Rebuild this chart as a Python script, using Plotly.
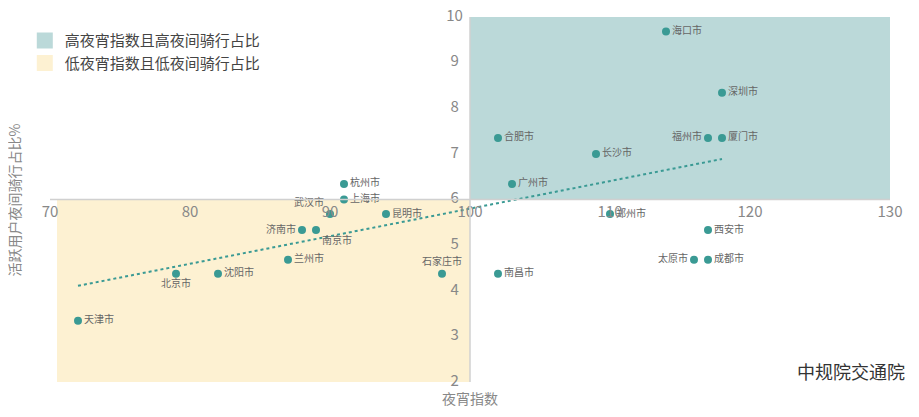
import numpy as np
import plotly.graph_objects as go

cities = ['天津市', '北京市', '沈阳市', '兰州市', '济南市', '南京市', '武汉市', '杭州市', '上海市', '昆明市',
          '石家庄市', '合肥市', '广州市', '长沙市', '郑州市', '海口市', '福州市', '厦门市', '深圳市', '西安市',
          '太原市', '成都市', '南昌市']
night_index = [72, 79, 82, 87, 88, 89, 90, 91, 91, 94,
               98, 102, 103, 109, 110, 114, 117, 118, 118, 117,
               116, 117, 102]
ride_share = [3.34, 4.37, 4.37, 4.68, 5.33, 5.33, 5.68, 6.34, 6.0, 5.68,
              4.37, 7.35, 6.34, 7.0, 5.68, 9.68, 7.35, 7.35, 8.34, 5.33,
              4.68, 4.68, 4.37]
label_pos = ['middle right', 'bottom center', 'middle right', 'middle right', 'middle left', 'bottom right',
             'top left', 'middle right', 'middle right', 'middle right',
             'top center', 'middle right', 'middle right', 'middle right', 'middle right', 'middle right',
             'middle left', 'middle right', 'middle right', 'middle right',
             'middle left', 'middle right', 'middle right']
x_ticks = [70, 80, 90, 100, 110, 120, 130]
y_ticks = [2, 3, 4, 5, 6, 7, 8, 9, 10]

teal = '#3a9a94'
fig = go.Figure()

# quadrant boxes
fig.add_shape(type='rect', x0=70.5, x1=100, y0=2, y1=6, fillcolor='#fdf1d2', line_width=0, layer='below')
fig.add_shape(type='rect', x0=100, x1=130, y0=6, y1=10, fillcolor='#bbd9d9', line_width=0, layer='below')
fig.add_shape(type='line', x0=70, x1=130, y0=6, y1=6, line=dict(color='#d0d0d0', width=1.5))
fig.add_shape(type='line', x0=100, x1=100, y0=2, y1=10, line=dict(color='#d0d0d0', width=1.5))

# legend entries
fig.add_trace(go.Scatter(x=[None], y=[None], mode='markers', name='高夜宵指数且高夜间骑行占比',
                         marker=dict(symbol='square', size=24, color='#bbd9d9')))
fig.add_trace(go.Scatter(x=[None], y=[None], mode='markers', name='低夜宵指数且低夜间骑行占比',
                         marker=dict(symbol='square', size=24, color='#fdf1d2')))

# trend line
k, b = np.polyfit(night_index, ride_share, 1)
xs = [min(night_index), max(night_index)]
fig.add_trace(go.Scatter(x=xs, y=[k * v + b for v in xs], mode='lines', showlegend=False,
                         line=dict(color=teal, width=2, dash='dot'), hoverinfo='skip'))

fig.add_trace(go.Scatter(x=night_index, y=ride_share, mode='markers+text', text=cities,
                         textposition=label_pos, showlegend=False, cliponaxis=False,
                         textfont=dict(size=10, color='#666666'),
                         marker=dict(size=8, color=teal)))

# tick labels at the crossing axes
fig.add_trace(go.Scatter(x=x_ticks, y=[5.7] * len(x_ticks), mode='text', text=[str(v) for v in x_ticks],
                         cliponaxis=False, textfont=dict(size=15, color='#888888'),
                         showlegend=False, hoverinfo='skip'))
fig.add_trace(go.Scatter(x=[98.9] * len(y_ticks), y=y_ticks, mode='text', text=[str(v) for v in y_ticks],
                         cliponaxis=False, textfont=dict(size=15, color='#888888'),
                         showlegend=False, hoverinfo='skip'))

fig.add_annotation(text='夜宵指数', x=100, y=-0.01, xref='x', yref='paper', showarrow=False,
                   yanchor='top', font=dict(size=14, color='#888888'))
fig.add_annotation(text='活跃用户夜间骑行占比%', x=-0.043, y=0.5, xref='paper', yref='paper', showarrow=False,
                   xanchor='center', yanchor='middle',
                   textangle=-90, font=dict(size=14, color='#888888'))
fig.add_annotation(text='中规院交通院', x=1.02, y=-0.01, xref='paper', yref='paper', showarrow=False,
                   xanchor='right', yanchor='bottom', font=dict(size=18, color='#333333'))

fig.update_layout(
    width=919, height=417, plot_bgcolor='white', paper_bgcolor='white',
    margin=dict(l=42, r=37, t=9, b=43, autoexpand=False),
    font=dict(family='Noto Sans CJK SC'),
    xaxis=dict(range=[70, 130], visible=False),
    yaxis=dict(range=[2, 10], visible=False),
    legend=dict(x=-0.03, y=0.98, xanchor='left', yanchor='top', bgcolor='rgba(0,0,0,0)',
                font=dict(size=15, color='#444444'), tracegroupgap=14),
)

fig.write_html("out.html")
